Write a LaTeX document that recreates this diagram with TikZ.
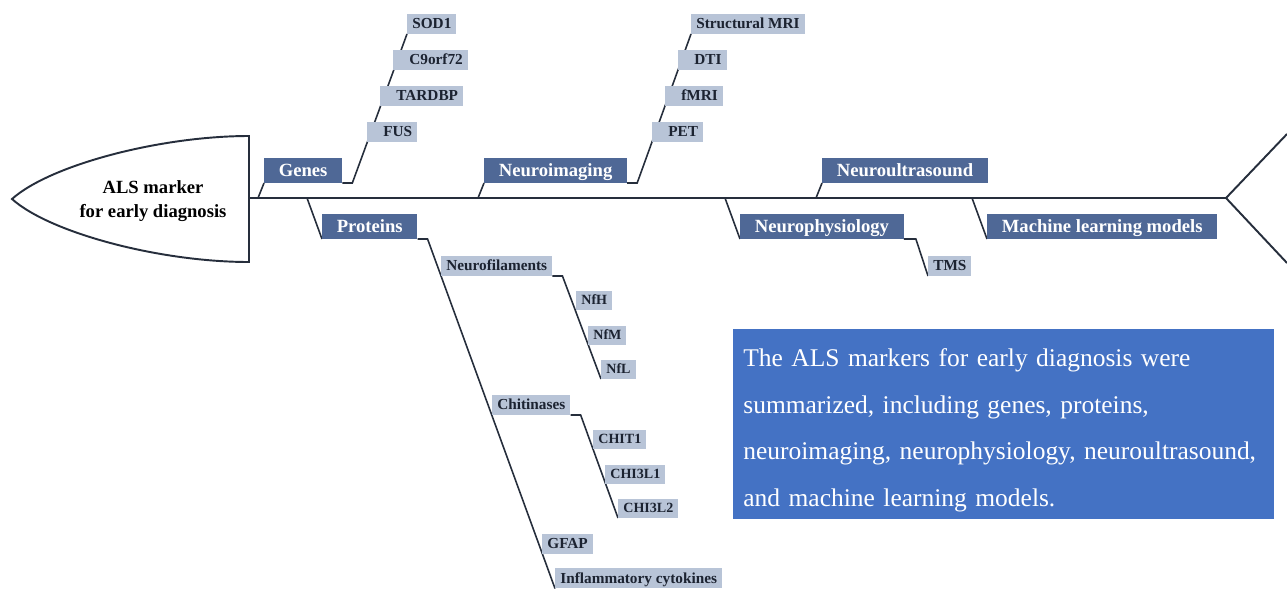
\documentclass[tikz,border=0pt]{standalone}
\usepackage{fontspec}
\setmainfont{Liberation Serif}
\usetikzlibrary{backgrounds}
\definecolor{catblue}{RGB}{79,104,150}
\definecolor{leafblue}{RGB}{184,196,215}
\definecolor{sumblue}{RGB}{68,114,196}
\definecolor{bonegray}{RGB}{38,46,60}
\definecolor{leafink}{RGB}{28,35,49}
\begin{document}
\begin{tikzpicture}[x=0.02cm, y=-0.02cm,
        cat/.style={fill=catblue, text=white, font=\fontsize{10.6}{12}\selectfont\bfseries, anchor=south west,
            inner xsep=0.29cm, inner ysep=0pt, minimum height=0.5cm, text height=7.4pt, text depth=0pt},
        leaf/.style={fill=leafblue, text=leafink, font=\fontsize{8.7}{10}\selectfont\bfseries, anchor=south west,
            inner xsep=0.1cm, inner ysep=0pt, minimum height=0.4cm, text height=5.9pt, text depth=0pt},
        padded/.style={execute at begin node={\hspace*{0.22cm}}},
        subleaf/.style={leaf, font=\fontsize{8}{10}\selectfont\bfseries, minimum height=0.38cm, text height=5.4pt},
        spine/.style={draw=bonegray, line width=1.1pt},
        rib/.style={draw=bonegray, line width=0.9pt}]
        \useasboundingbox (0,0) rectangle (1287,589);
        \draw[spine, fill=white] (249,136) .. controls (160,136) and (50,165) .. (12,199)
            .. controls (50,233) and (160,262) .. (249,262) -- cycle;
        \node[font=\fontsize{10.6}{13.6}\selectfont\bfseries, align=center] (head) at (153,201) {ALS marker\\for early diagnosis};
        \coordinate (neck) at (249,198);
        \coordinate (tail) at (1226,198);
        \coordinate (fintop) at (1287,134);
        \coordinate (finbot) at (1287,263);
        \draw[spine] (neck) -- (tail);
        \draw[spine] (fintop) -- (tail) -- (finbot);
        \coordinate (b1) at (258,198);
        \coordinate (b2) at (307,198);
        \coordinate (b3) at (478,198);
        \coordinate (b4) at (725,198);
        \coordinate (b5) at (816,198);
        \coordinate (b6) at (972,198);
        \node[cat] (genes) at (264,183) {Genes};
        \node[cat] (proteins) at (322,239) {Proteins};
        \node[cat] (imaging) at (484,183) {Neuroimaging};
        \node[cat] (physio) at (740,239) {Neurophysiology};
        \node[cat] (ultra) at (822,183) {Neuroultrasound};
        \node[cat] (ml) at (987,239) {Machine learning models};
        \node[leaf] (sod1) at (407,34) {SOD1};
        \node[leaf, padded] (c9orf72) at (393,70) {C9orf72};
        \node[leaf, padded] (tardbp) at (380,106) {TARDBP};
        \node[leaf, padded] (fus) at (367,142) {FUS};
        \node[leaf] (smri) at (691,34) {Structural MRI};
        \node[leaf, padded] (dti) at (678,70) {DTI};
        \node[leaf, padded] (fmri) at (665,106) {fMRI};
        \node[leaf, padded] (pet) at (652,142) {PET};
        \node[leaf] (tms) at (928,276) {TMS};
        \node[leaf] (nfil) at (441,276) {Neurofilaments};
        \node[leaf] (chit) at (492,415) {Chitinases};
        \node[leaf] (gfap) at (542,554) {GFAP};
        \node[leaf] (cyto) at (555,588.5) {Inflammatory cytokines};
        \node[subleaf] (nfh) at (576,310) {NfH};
        \node[subleaf] (nfm) at (588,345) {NfM};
        \node[subleaf] (nfl) at (601,379) {NfL};
        \node[subleaf] (chit1) at (593,449) {CHIT1};
        \node[subleaf] (chi3l1) at (605,484) {CHI3L1};
        \node[subleaf] (chi3l2) at (618,518) {CHI3L2};
        \begin{scope}[on background layer]
            \draw[rib] (b1) -- (genes.south west);
            \draw[rib] (b2) -- (proteins.south west);
            \draw[rib] (b3) -- (imaging.south west);
            \draw[rib] (b4) -- (physio.south west);
            \draw[rib] (b5) -- (ultra.south west);
            \draw[rib] (b6) -- (ml.south west);
            \draw[rib] (genes.south east) -- ++(10,0) -- (sod1.south west);
            \draw[rib] (imaging.south east) -- ++(10,0) -- (smri.south west);
            \draw[rib] (physio.south east) -- ++(12,0) -- (tms.south west);
            \draw[rib] (proteins.south east) -- ++(10,0) -- (cyto.south west);
            \draw[rib] (nfil.south east) -- ++(10,0) -- (nfl.south west);
            \draw[rib] (chit.south east) -- ++(10,0) -- (chi3l2.south west);
        \end{scope}
        \node[fill=sumblue, text=white, anchor=north west, minimum width=10.82cm, minimum height=3.8cm,
            inner xsep=0.2cm, text width=10.42cm, align=left, font=\fontsize{14.5}{26.4}\selectfont,
            execute at begin node={\rule{0pt}{17pt}}] (summary) at (733,329)
            {The ALS markers for early diagnosis were\\summarized, including genes, proteins,\\neuroimaging, neurophysiology, neuroultrasound,\\and machine learning models.};
\end{tikzpicture}
\end{document}
